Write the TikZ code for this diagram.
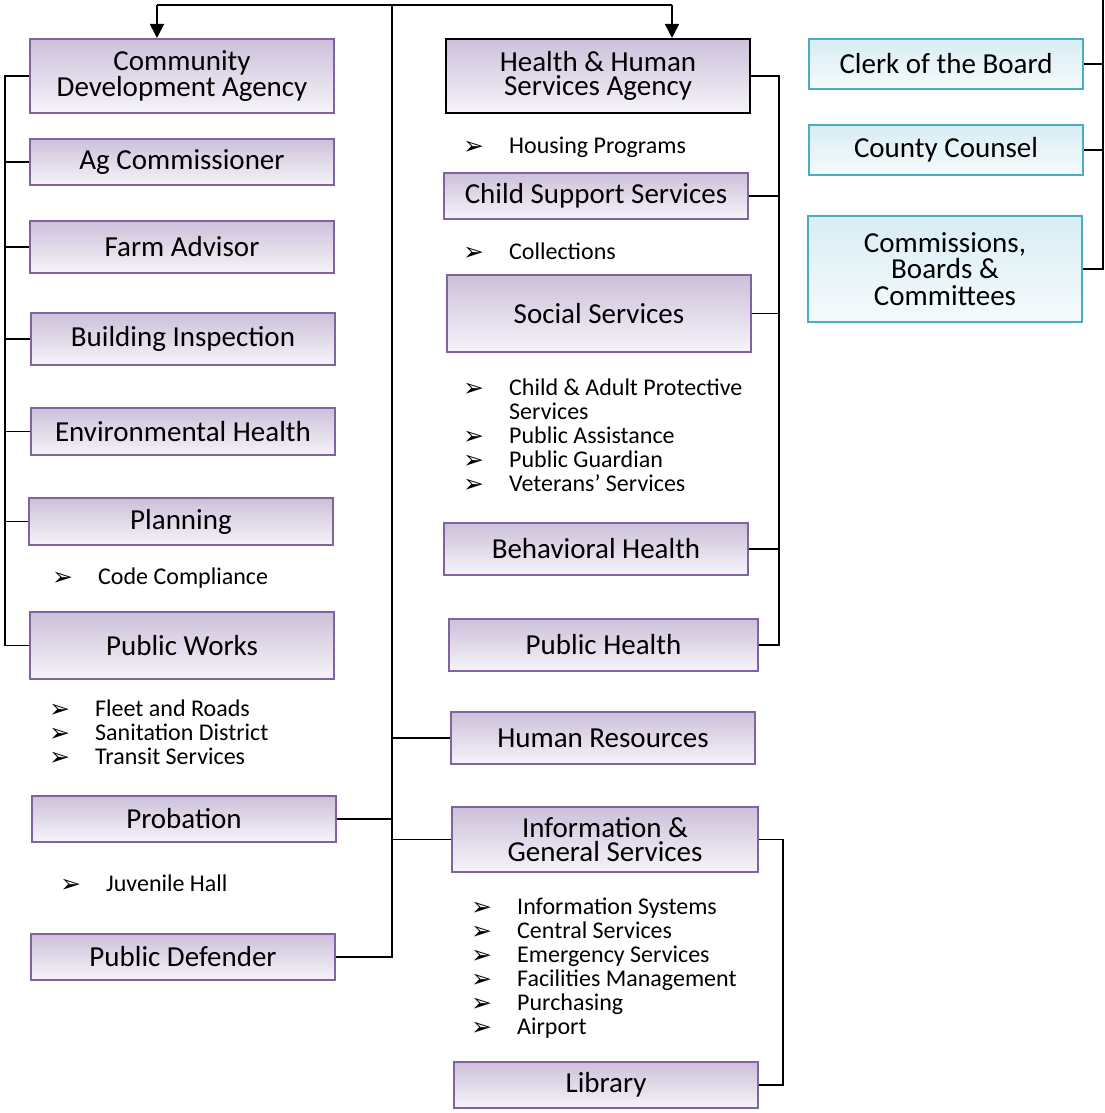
\documentclass[tikz,border=0pt]{standalone}
\usepackage{fontspec}
\setmainfont{Carlito}
\newfontfamily\dingfont{DejaVu Sans}
\usetikzlibrary{arrows.meta, positioning}
\usepackage{xcolor}
\definecolor{OrgPurple}{RGB}{128,100,162}
\definecolor{LavenderTop}{RGB}{204,192,218}
\definecolor{LavenderLow}{RGB}{246,244,249}
\definecolor{OrgTeal}{RGB}{75,172,198}
\definecolor{IceTop}{RGB}{216,237,243}
\definecolor{IceLow}{RGB}{246,251,253}
\newcommand{\bullitem}[1]{\makebox[46pt][l]{\dingfont\fontsize{25}{24}\selectfont\raisebox{-1pt}{➢}}#1}

\begin{document}
\begin{tikzpicture}[x=1pt, y=-1pt,
          unit/.style={rectangle, draw=OrgPurple, line width=1.6pt, top color=LavenderTop, bottom color=LavenderLow, minimum width=304.4pt, minimum height=46.4pt, inner sep=0pt, align=center, font=\fontsize{29}{24}\selectfont},
          agency/.style={unit, draw=black},
          office/.style={unit, draw=OrgTeal, top color=IceTop, bottom color=IceLow, minimum width=274.4pt, minimum height=50.4pt},
          items/.style={inner sep=0pt, align=left, anchor=north west, font=\fontsize{24}{24}\selectfont},
          link/.style={line width=1.6pt, black},
          arrow/.style={link, -{Triangle[width=14pt, length=14pt]}}
        ]
          \useasboundingbox (0,0) rectangle (1104,1113);

          % left column
          \node (cda) [unit, minimum height=74.4pt] at (182,76) {Community\\Development Agency};
          \node (ag) [unit, below=24pt of cda] {Ag Commissioner};
          \node (farm) [unit, minimum height=52.4pt, below=34pt of ag] {Farm Advisor};
          \node (building) [unit, minimum height=52.4pt, below=38pt of farm, xshift=1pt] {Building Inspection};
          \node (envhealth) [unit, minimum height=47.4pt, below=41pt of building] {Environmental Health};
          \node (planning) [unit, minimum height=47.4pt, below=41pt of envhealth, xshift=-2pt] {Planning};
          \node (codes) [items, below right=22pt and 24pt of planning.south west] {\bullitem{Code Compliance}};
          \node (pw) [unit, minimum height=67.4pt, below=65pt of planning, xshift=1pt] {Public Works};
          \node (pwlist) [items, below right=20pt and 20pt of pw.south west] {\bullitem{Fleet and Roads}\\ \bullitem{Sanitation District}\\ \bullitem{Transit Services}};
          \node (probation) [unit, below=115pt of pw, xshift=2pt] {Probation};
          \node (juvenile) [items, below right=32pt and 29pt of probation.south west] {\bullitem{Juvenile Hall}};
          \node (defender) [unit, below=90pt of probation, xshift=-1pt] {Public Defender};

          % middle column
          \node (hhs) [agency, minimum height=74.4pt] at (598,76) {Health \& Human\\Services Agency};
          \node (housing) [items, below right=23pt and 18pt of hhs.south west] {\bullitem{Housing Programs}};
          \node (childsupport) [unit, below=58pt of hhs, xshift=-2pt] {Child Support Services};
          \node (collections) [items, below right=23pt and 20pt of childsupport.south west] {\bullitem{Collections}};
          \node (social) [unit, minimum height=77.4pt, below=54pt of childsupport, xshift=3pt] {Social Services};
          \node (sslist) [items, below right=26pt and 17pt of social.south west] {\bullitem{Child \& Adult Protective}\\ \hspace*{46pt}Services\\ \bullitem{Public Assistance}\\ \bullitem{Public Guardian}\\ \bullitem{Veterans’ Services}};
          \node (behavioral) [unit, minimum height=52.4pt, below=169pt of social, xshift=-3pt] {Behavioral Health};
          \node (pubhealth) [unit, minimum width=309.4pt, minimum height=52.4pt, below=42pt of behavioral, xshift=7.5pt] {Public Health};
          \node (hr) [unit, minimum height=52.4pt, below=39pt of pubhealth, xshift=-0.5pt] {Human Resources};
          \node (igs) [unit, minimum width=306.4pt, minimum height=65.4pt, below=41pt of hr, xshift=2pt] {Information \&\\General Services};
          \node (igslist) [items, below right=25pt and 20pt of igs.south west] {\bullitem{Information Systems}\\ \bullitem{Central Services}\\ \bullitem{Emergency Services}\\ \bullitem{Facilities Management}\\ \bullitem{Purchasing}\\ \bullitem{Airport}};
          \node (library) [unit, below=188pt of igs, xshift=1pt] {Library};

          % right column
          \node (clerk) [office] at (946,64) {Clerk of the Board};
          \node (counsel) [office, below=34pt of clerk] {County Counsel};
          \node (commissions) [office, minimum height=106.4pt, below=39pt of counsel, xshift=-1pt, font=\fontsize{29}{26.5}\selectfont] {Commissions,\\Boards \&\\Committees};

          % top split
          \coordinate (split) at (392,5);
          \coordinate (topl) at (157,5);
          \coordinate (topr) at (672,5);
          \draw [link] (topl) -- (topr);
          \draw [arrow] (topl) -- (topl |- cda.north);
          \draw [arrow] (topr) -- (topr |- hhs.north);
          \draw [link] (split) -- (split |- defender.east) -- (defender.east);
          \draw [link] (probation.east) -- (probation.east -| split);
          \foreach \n in {hr, igs}
            \draw [link] (\n.west) -- (\n.west -| split);

          % left bus
          \coordinate (lbus) at (5,72);
          \draw [link] (cda.west) -- (cda.west -| lbus) -- (pw.west -| lbus) -- (pw.west);
          \foreach \n in {ag, farm, building, envhealth, planning}
            \draw [link] (\n.west) -- (\n.west -| lbus);

          % health bus
          \coordinate (hbus) at (779,72);
          \draw [link] (hhs.east) -- (hhs.east -| hbus) -- (pubhealth.east -| hbus) -- (pubhealth.east);
          \foreach \n in {childsupport, social, behavioral}
            \draw [link] (\n.east) -- (\n.east -| hbus);

          % general services bus
          \coordinate (gbus) at (783,843);
          \draw [link] (igs.east) -- (igs.east -| gbus) |- (library.east);

          % board offices bus
          \coordinate (obus) at (1103,0);
          \draw [link] (obus) |- (commissions.east);
          \foreach \n in {clerk, counsel}
            \draw [link] (\n.east) -- (\n.east -| obus);
        \end{tikzpicture}
\end{document}
